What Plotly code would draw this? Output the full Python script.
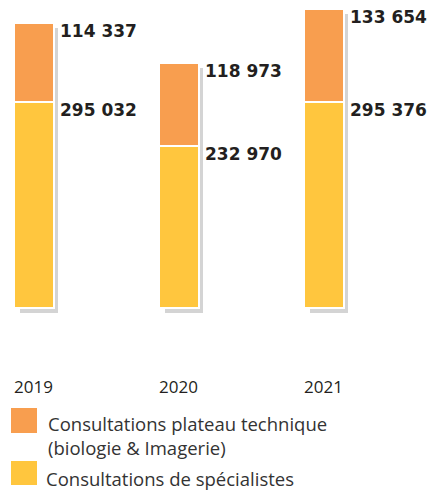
import plotly.graph_objects as go

# ---- data ----
years = ["2019", "2020", "2021"]
specialistes = [295032, 232970, 295376]
plateau = [114337, 118973, 133654]
labels_spec = ["295 032", "232 970", "295 376"]
labels_plat = ["114 337", "118 973", "133 654"]
legend_plat = "Consultations plateau technique<br>(biologie & Imagerie)"
legend_spec = "Consultations de spécialistes"

# ---- style ----
ORANGE = "#F89E4F"
YELLOW = "#FFC63E"
SHADOW = "#D4D4D4"
TXT = "#231F20"
W, H = 435, 490
PLOT_BOTTOM = 320          # px of plot area bottom
ZERO_PX = 308              # px where value 0 sits
UPP = 1434.7               # data units per pixel (y)
CAT_PX = 145               # px between categories
C0 = 33.5                  # px of first category centre
BAR_W = 40 / CAT_PX
SH = 5                     # shadow offset px

yr = [-(PLOT_BOTTOM - ZERO_PX) * UPP, ZERO_PX * UPP]
xr = [-C0 / CAT_PX, (W - C0) / CAT_PX]

fig = go.Figure()
# shadows on base axes (shifted)
fig.add_trace(go.Bar(x=years, y=specialistes, width=BAR_W - 2 / CAT_PX, marker_color=SHADOW,
                     marker_line_width=0, showlegend=False, hoverinfo="skip", xaxis="x", yaxis="y"))
fig.add_trace(go.Bar(x=years, y=plateau, width=BAR_W - 2 / CAT_PX, marker_color=SHADOW,
                     marker_line_width=0, showlegend=False, hoverinfo="skip", xaxis="x", yaxis="y"))
# main bars on overlay axes
fig.add_trace(go.Bar(x=years, y=specialistes, width=BAR_W, marker_color=YELLOW,
                     marker_line=dict(color="white", width=2), name=legend_spec,
                     showlegend=False, xaxis="x2", yaxis="y2"))
fig.add_trace(go.Bar(x=years, y=plateau, width=BAR_W, marker_color=ORANGE,
                     marker_line=dict(color="white", width=2), name=legend_plat,
                     showlegend=False, xaxis="x2", yaxis="y2"))

annotations = []
for i in range(len(years)):
    for top, lab in ((specialistes[i], labels_spec[i]), (specialistes[i] + plateau[i], labels_plat[i])):
        annotations.append(dict(x=i, y=top, xref="x2", yref="y2", text="<b>" + lab + "</b>",
                                showarrow=False, xanchor="left", yanchor="top",
                                xshift=24, yshift=4,
                                font=dict(family="DejaVu Sans", size=17, color=TXT)))

def py(p):
    return (PLOT_BOTTOM - p) / PLOT_BOTTOM

shapes = [
    dict(type="rect", xref="paper", yref="paper", x0=11 / W, x1=37 / W, y0=py(433), y1=py(408),
         fillcolor=ORANGE, line_width=0),
    dict(type="rect", xref="paper", yref="paper", x0=11 / W, x1=37 / W, y0=py(485), y1=py(461),
         fillcolor=YELLOW, line_width=0),
]
for txt, xp, yp in ((legend_plat, 46, 435.5), (legend_spec, 44, 478)):
    annotations.append(dict(x=xp / W, y=py(yp), xref="paper", yref="paper", text=txt,
                            showarrow=False, xanchor="left", yanchor="middle", align="left",
                            font=dict(family="Open Sans", size=18.5, color="#333333")))

fig.update_layout(
    width=W, height=H, barmode="stack", bargap=0,
    margin=dict(l=0, r=0, t=0, b=H - PLOT_BOTTOM, pad=0),
    paper_bgcolor="white", plot_bgcolor="rgba(0,0,0,0)",
    xaxis=dict(type="category", range=[xr[0] - SH / CAT_PX, xr[1] - SH / CAT_PX], visible=False),
    yaxis=dict(range=[yr[0] + SH * UPP, yr[1] + SH * UPP], visible=False),
    xaxis2=dict(type="category", overlaying="x", range=xr, showgrid=False, zeroline=False,
                showline=False, ticks="outside", ticklen=52, tickcolor="rgba(0,0,0,0)",
                tickfont=dict(family="Open Sans", size=17, color=TXT)),
    yaxis2=dict(overlaying="y", range=yr, visible=False),
    shapes=shapes, annotations=annotations, showlegend=False,
)

fig.write_html("out.html", config={"displayModeBar": False},
               post_script="document.body.style.margin='0';")
